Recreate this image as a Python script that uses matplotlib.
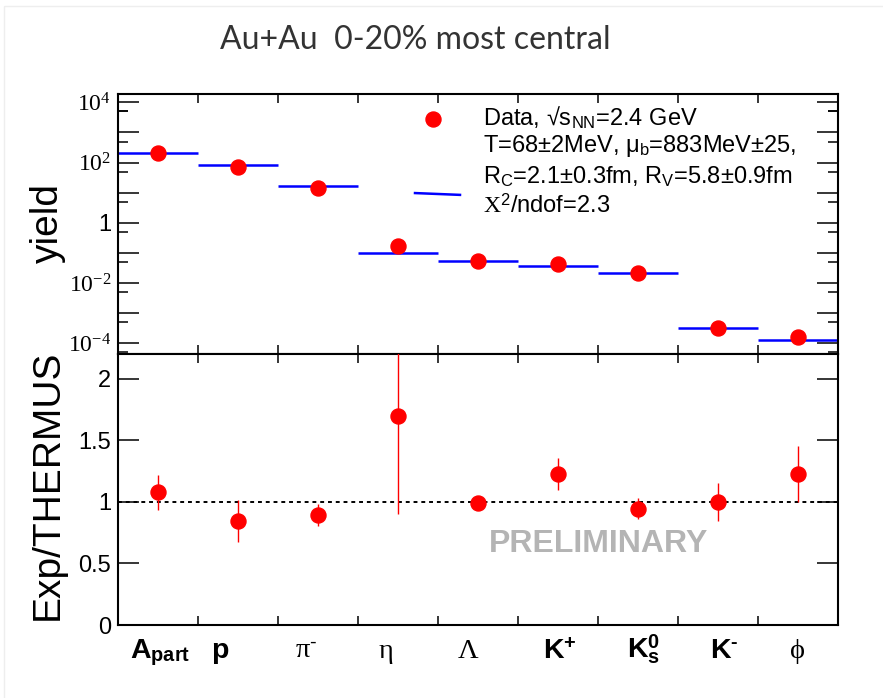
import numpy as np
import matplotlib
matplotlib.use("Agg")
import matplotlib.pyplot as plt
from matplotlib.patches import Rectangle
from matplotlib.lines import Line2D
import matplotlib.transforms as mtransforms

# ---------------- data ----------------
particles = ["A_part", "p", "pi-", "eta", "Lambda", "K+", "K0s", "K-", "phi"]
tick_labels = [r"$\mathbf{A}_{\mathbf{part}}$", r"$\mathbf{p}$", "$\\mathrm{\\pi}^{\\mathsf{\u2010}}$",
               r"$\mathrm{\eta}$", r"$\mathrm{\Lambda}$", r"$\mathbf{K}^{\mathbf{+}}$",
               r"$\mathbf{K}_{\mathbf{s}}^{\mathbf{0}}$", "$\\mathbf{K}^{\\mathbf{\u2010}}$",
               r"$\mathrm{\phi}$"]
yield_data = [215, 72, 14.5, 0.17, 0.056, 0.044, 0.021, 3.2e-4, 1.6e-4]
yield_model = [200, 86, 16.3, 0.10, 0.056, 0.036, 0.022, 3.2e-4, 1.3e-4]
ratio = [1.076, 0.843, 0.892, 1.698, 0.987, 1.227, 0.943, 1.0, 1.227]
ratio_err = [0.14, 0.17, 0.09, 0.80, 0.03, 0.127, 0.085, 0.153, 0.23]
log_tick_vals = [1e-4, 1e-3, 1e-2, 1e-1, 1, 1e1, 1e2, 1e3, 1e4]
log_tick_text = [r"$10^{-4}$", "", r"$10^{-2}$", "", "1", "", r"$10^{2}$", "", r"$10^{4}$"]
ratio_ticks = [0, 0.5, 1, 1.5, 2]
ratio_tick_text = ["0", "0.5", "1", "1.5", "2"]
legend_lines = ["Data, √s$_{\\mathsf{NN}}$=2.4 GeV",
                "T=68±2MeV, μ$_{\\mathsf{b}}$=883MeV±25,",
                "R$_{\\mathsf{C}}$=2.1±0.3fm, R$_{\\mathsf{V}}$=5.8±0.9fm",
                r"$\mathrm{X}^{\mathsf{2}}$/ndof=2.3"]
title = "Au+Au  0-20% most central"

# ---------------- style ----------------
plt.rcParams['font.family'] = ['Liberation Sans', 'DejaVu Sans']
plt.rcParams['mathtext.fontset'] = 'custom'
plt.rcParams['mathtext.rm'] = 'Liberation Serif'
plt.rcParams['mathtext.it'] = 'Liberation Serif:italic'
plt.rcParams['mathtext.bf'] = 'Liberation Sans:bold'
plt.rcParams['mathtext.sf'] = 'Liberation Sans'

W, H = 883, 698
fig = plt.figure(figsize=(W / 100, H / 100), dpi=100)

# faint card border
fig.patches.append(Rectangle((4 / W, -0.1), 1.2, 1 - 6 / H + 0.1, transform=fig.transFigure,
                             fill=False, edgecolor='#eeeeee', lw=1.0))

L, R = 118 / W, 838 / W
ax1 = fig.add_axes([L, 1 - 354 / H, R - L, (354 - 94) / H])
ax2 = fig.add_axes([L, 1 - 625 / H, R - L, (625 - 354) / H])

x = np.arange(len(particles))
red = '#ff0000'
blue = '#0000ff'

for ax in (ax1, ax2):
    for s in ax.spines.values():
        s.set_linewidth(1.5)
    ax.set_xlim(-0.5, len(particles) - 0.5)
    ax.set_xticks(np.arange(0.5, len(particles) - 0.5, 1))
    ax.tick_params(axis='x', which='both', direction='in', top=True, bottom=True,
                   length=6.5, width=1.1, labelbottom=False)
    ax.tick_params(axis='y', which='both', direction='in', left=True, right=True,
                   width=1.1, labelsize=17, pad=5)
    ax.tick_params(axis='y', which='major', length=15)
    ax.tick_params(axis='y', which='minor', length=7.5)

# ---- top panel ----
ax1.set_yscale('log')
ax1.set_ylim(10 ** -4.355, 10 ** 4.276)
ax1.yaxis.set_major_locator(matplotlib.ticker.FixedLocator(log_tick_vals))
ax1.yaxis.set_major_formatter(matplotlib.ticker.FixedFormatter(log_tick_text))
ax1.yaxis.set_minor_locator(matplotlib.ticker.FixedLocator([5 * v / 10 for v in log_tick_vals] + [5e3]))
ax1.yaxis.set_minor_formatter(matplotlib.ticker.NullFormatter())
ax1.hlines(yield_model, x - 0.5, x + 0.5, colors=blue, lw=1.8, zorder=2)
ax1.plot(x, yield_data, 'o', color=red, ms=10.8, mec=red, zorder=3)

# legend (drawn manually, ROOT-like)
ax1.plot([0.4375], [0.904], 'o', color=red, ms=10.8, transform=ax1.transAxes, clip_on=False)
ax1.add_line(Line2D([0.4125, 0.475], [0.619, 0.612], color=blue, lw=1.8, transform=ax1.transAxes))
for t, yy in zip(legend_lines, [0.908, 0.800, 0.681, 0.570]):
    ax1.text(0.507, yy, t, transform=ax1.transAxes, fontsize=17, va='center', ha='left')

# ---- bottom panel ----
ax2.set_ylim(0, 2.2)
ax2.set_yticks(ratio_ticks)
ax2.set_yticklabels(ratio_tick_text)
ax2.axhline(1.0, color='black', lw=1.4, ls=(0, (2, 2)), zorder=1)
ax2.errorbar(x, ratio, yerr=ratio_err, fmt='o', color=red, ms=10.8, mec=red,
             ecolor=red, elinewidth=1.0, capsize=0, zorder=3)

ax2.text(0.667, 0.30, "PRELIMINARY", transform=ax2.transAxes, fontsize=23, fontweight='bold',
         color='#b0b0b0', ha='center', va='center', alpha=0.95)

# x category labels
label_offsets = [0.025, -0.225, -0.15, -0.15, -0.125, 0.025, 0.075, 0.075, -0.01]
trans = mtransforms.blended_transform_factory(ax2.transData, ax2.transAxes)
for xi, lab, off in zip(x, tick_labels, label_offsets):
    ax2.text(xi + off, -0.1218, lab, transform=trans, ha='center', va='baseline',
             fontsize=20.5, clip_on=False)

# axis titles
fig.text(48 / W, 1 - 223 / H, "yield", rotation=90, fontsize=28, ha='center', va='center')
fig.text(48 / W, 1 - 485 / H, "Exp/THERMUS", rotation=90, fontsize=28, ha='center', va='center')

# top title
fig.text(415 / W, 1 - 40 / H, title, fontsize=23, color='#333333', ha='center', va='center',
         family=['Lato', 'DejaVu Sans'])

fig.savefig("out.png", dpi=100)
